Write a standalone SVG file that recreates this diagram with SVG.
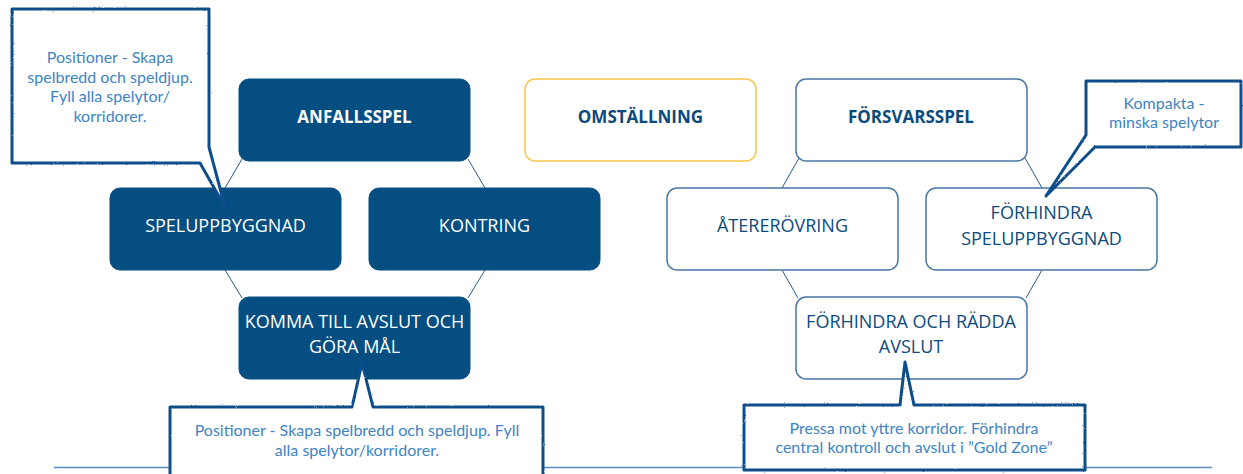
<svg xmlns="http://www.w3.org/2000/svg" width="1243" height="474" viewBox="0 0 1243 474">
  <defs>
    <filter id="rough" x="-5%" y="-5%" width="110%" height="110%">
      <feTurbulence type="fractalNoise" baseFrequency="0.9" numOctaves="2" seed="3" result="n"/>
      <feDisplacementMap in="SourceGraphic" in2="n" scale="1.8" xChannelSelector="R" yChannelSelector="G"/>
    </filter>
  </defs>
  <style>
    .solid { fill: #044e82; stroke: #044e82; stroke-width: 1; }
    .outline { fill: #ffffff; stroke: #4a76a6; stroke-width: 1.5; }
    .gold { fill: #ffffff; stroke: #f6c94a; stroke-width: 1.5; }
    .lbl { font-family: "Open Sans", "Liberation Sans", sans-serif; font-size: 18px; text-anchor: middle; }
    .bold { font-weight: bold; font-size: 17px; }
    .w { fill: #ffffff; }
    .b { fill: #0b4a7c; }
    .conn { stroke: #2a5a8c; stroke-width: 1; fill: none; }
    .call { fill: #ffffff; stroke: #0f4e8a; stroke-width: 3; stroke-linejoin: round; }
    .ctext { font-family: Lato, "Open Sans", "Liberation Sans", sans-serif; font-size: 16px; fill: #4084c4; text-anchor: middle; }
    .rule { stroke: #5b8cc0; stroke-width: 1.5; }
  </style>

  <line class="rule" x1="54" y1="467.5" x2="1212" y2="467.5"/>

  <g id="connectors">
    <line class="conn" x1="242" y1="159" x2="225" y2="188"/>
    <line class="conn" x1="468" y1="159" x2="485" y2="188"/>
    <line class="conn" x1="225" y1="270" x2="242" y2="298"/>
    <line class="conn" x1="485" y1="270" x2="468" y2="298"/>
    <line class="conn" x1="799" y1="158" x2="782" y2="188"/>
    <line class="conn" x1="1025" y1="158" x2="1042" y2="188"/>
    <line class="conn" x1="782" y1="270" x2="798" y2="298"/>
    <line class="conn" x1="1042" y1="270" x2="1026" y2="298"/>
  </g>

  <g id="anfallsspel">
    <rect class="solid" x="239" y="79" width="231" height="82" rx="10"/>
    <text class="lbl bold w" x="354.5" y="123">ANFALLSSPEL</text>
  </g>
  <g id="omstallning">
    <rect class="gold" x="525" y="79" width="231" height="82" rx="10"/>
    <text class="lbl bold b" x="640.5" y="123">OMSTÄLLNING</text>
  </g>
  <g id="forsvarsspel">
    <rect class="outline" x="796" y="79" width="231" height="82" rx="10"/>
    <text class="lbl bold b" x="911" y="123">FÖRSVARSSPEL</text>
  </g>
  <g id="speluppbyggnad">
    <rect class="solid" x="110" y="188" width="231" height="82" rx="10"/>
    <text class="lbl w" x="225.5" y="232">SPELUPPBYGGNAD</text>
  </g>
  <g id="kontring">
    <rect class="solid" x="369" y="188" width="231" height="82" rx="10"/>
    <text class="lbl w" x="484.5" y="232">KONTRING</text>
  </g>
  <g id="atererovring">
    <rect class="outline" x="667" y="188" width="231" height="82" rx="10"/>
    <text class="lbl b" x="782.5" y="232">ÅTERERÖVRING</text>
  </g>
  <g id="forhindra-speluppbyggnad">
    <rect class="outline" x="926" y="188" width="231" height="82" rx="10"/>
    <text class="lbl b" x="1041.5" y="219">FÖRHINDRA</text>
    <text class="lbl b" x="1041.5" y="245">SPELUPPBYGGNAD</text>
  </g>
  <g id="komma-till-avslut">
    <rect class="solid" x="239" y="297" width="231" height="82" rx="10"/>
    <text class="lbl w" x="354.5" y="328">KOMMA TILL AVSLUT OCH</text>
    <text class="lbl w" x="354.5" y="353">GÖRA MÅL</text>
  </g>
  <g id="forhindra-radda">
    <rect class="outline" x="796" y="297" width="231" height="82" rx="10"/>
    <text class="lbl b" x="911" y="328">FÖRHINDRA OCH RÄDDA</text>
    <text class="lbl b" x="911" y="353">AVSLUT</text>
  </g>

  <g id="callout-positioner-top">
    <path class="call" filter="url(#rough)" d="M12,9 L209,9 L209,147 L225,207 L200,163 L12,163 Z"/>
    <text class="ctext" x="110" y="63">Positioner - Skapa</text>
    <text class="ctext" x="110" y="82.5">spelbredd och speldjup.</text>
    <text class="ctext" x="110" y="102">Fyll alla spelytor/</text>
    <text class="ctext" x="110" y="121.5">korridorer.</text>
  </g>
  <g id="callout-positioner-bottom">
    <path class="call" filter="url(#rough)" d="M170,407 L352,407 L362,363 L373,407 L543,407 L543,482 L170,482 Z"/>
    <text class="ctext" x="357" y="436">Positioner - Skapa spelbredd och speldjup. Fyll</text>
    <text class="ctext" x="357" y="455.5">alla spelytor/korridorer.</text>
  </g>
  <g id="callout-pressa">
    <path class="call" filter="url(#rough)" d="M744,405 L900,405 L905,362 L914,405 L1085,405 L1085,470 L744,470 Z"/>
    <text class="ctext" x="914" y="433.5">Pressa mot yttre korridor. Förhindra</text>
    <text class="ctext" x="914" y="453">central kontroll och avslut i ”Gold Zone”</text>
  </g>
  <g id="callout-kompakta">
    <path class="call" filter="url(#rough)" d="M1086,81 L1241,81 L1241,147 L1095,147 L1046,196 L1086,135 Z"/>
    <text class="ctext" x="1164" y="108.5">Kompakta -</text>
    <text class="ctext" x="1164" y="128">minska spelytor</text>
  </g>
</svg>
